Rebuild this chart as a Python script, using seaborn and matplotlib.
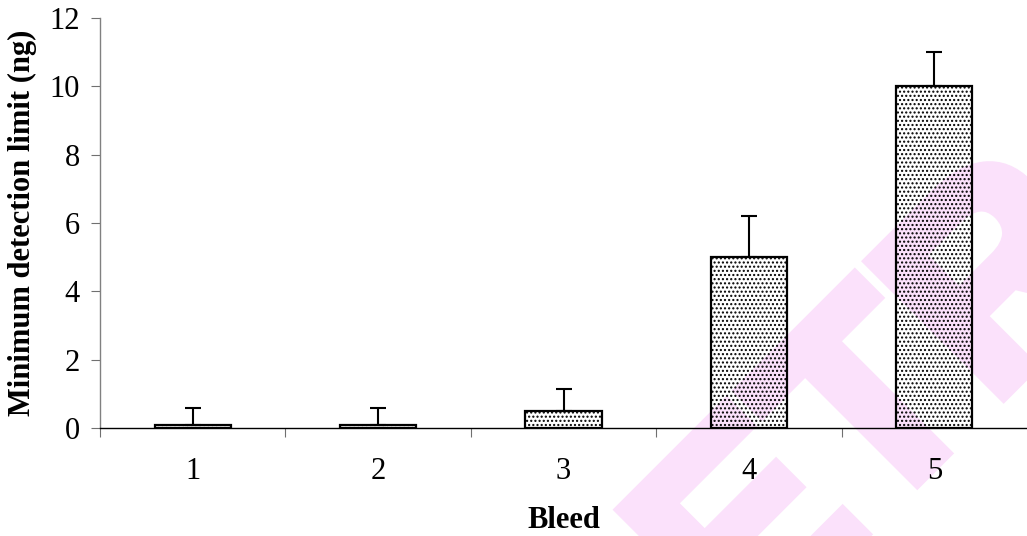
import matplotlib
matplotlib.use("Agg")
import matplotlib.pyplot as plt
import matplotlib.patheffects as pe
import numpy as np
import pandas as pd
import seaborn as sns

# Detection limit per bleed, with upper error values
bleeds = ["1", "2", "3", "4", "5"]
detection_limit = [0.1, 0.1, 0.5, 5.0, 10.0]
upper_error = [0.5, 0.5, 0.65, 1.2, 1.0]
y_ticks = [0, 2, 4, 6, 8, 10, 12]

sns.set_style("ticks")
plt.rcParams["font.family"] = ["Liberation Serif", "DejaVu Serif"]
plt.rcParams["hatch.linewidth"] = 1.0
plt.rcParams["hatch.color"] = "black"
for key in ("text.color", "axes.labelcolor", "xtick.labelcolor",
            "ytick.labelcolor"):
    plt.rcParams[key] = "black"

df = pd.DataFrame({"Bleed": bleeds, "Limit": detection_limit})

fig = plt.figure(figsize=(10.27, 5.36), dpi=100)
ax = fig.add_axes([100 / 1027, 1 - 428 / 536, 1 - 100 / 1027, 410 / 536])
ax.patch.set_visible(False)

sns.barplot(data=df, x="Bleed", y="Limit", ax=ax, color="white",
            edgecolor="black", linewidth=1.6, width=0.41, hatch="....",
            errorbar=None, zorder=2)
for bar in ax.patches:
    bar.set_facecolor("none")

xpos = np.arange(len(bleeds))
ax.errorbar(xpos, detection_limit,
            yerr=[np.zeros(len(upper_error)), upper_error],
            fmt="none", ecolor="black", elinewidth=1.5, capsize=5.5,
            capthick=1.5, zorder=3)

ax.set_xlim(-0.5, len(bleeds) - 0.5)
ax.set_ylim(0, 12)
ax.set_yticks(y_ticks)
ax.set_yticklabels([str(t) for t in y_ticks])

# Tick marks sit between categories, labels stay centred on bars
ax.set_xticks(np.arange(-0.5, len(bleeds) - 0.5, 1.0), minor=True)
ax.tick_params(axis="x", which="major", length=0, pad=21, labelsize=22)
ax.tick_params(axis="x", which="minor", length=6.5, width=0.8,
               color="#707070", direction="out")
ax.tick_params(axis="y", which="major", length=6.5, width=0.8,
               color="#707070", pad=8, labelsize=22)

for side in ("top", "right"):
    ax.spines[side].set_visible(False)
ax.spines["left"].set_color("#808080")
ax.spines["left"].set_linewidth(1.0)
ax.spines["bottom"].set_color("black")
ax.spines["bottom"].set_linewidth(1.0)

ax.set_xlabel("Bleed", fontsize=22, fontweight="bold", labelpad=14)
ax.set_ylabel("Minimum detection limit (ng)", fontsize=22,
              fontweight="bold", labelpad=9)

# Diagonal publisher mark, drawn behind the bars
fig.text(0.912, 0.138, "ETR", fontsize=198, fontweight="bold",
         family=["Liberation Sans", "DejaVu Sans"], color="#fbe1fb",
         rotation=45, ha="center", va="baseline",
         rotation_mode="anchor", zorder=-1,
         path_effects=[pe.Stroke(linewidth=9, foreground="#fbe1fb",
                                 joinstyle="miter"),
                       pe.Normal()])

fig.savefig("out.png", dpi=100)
